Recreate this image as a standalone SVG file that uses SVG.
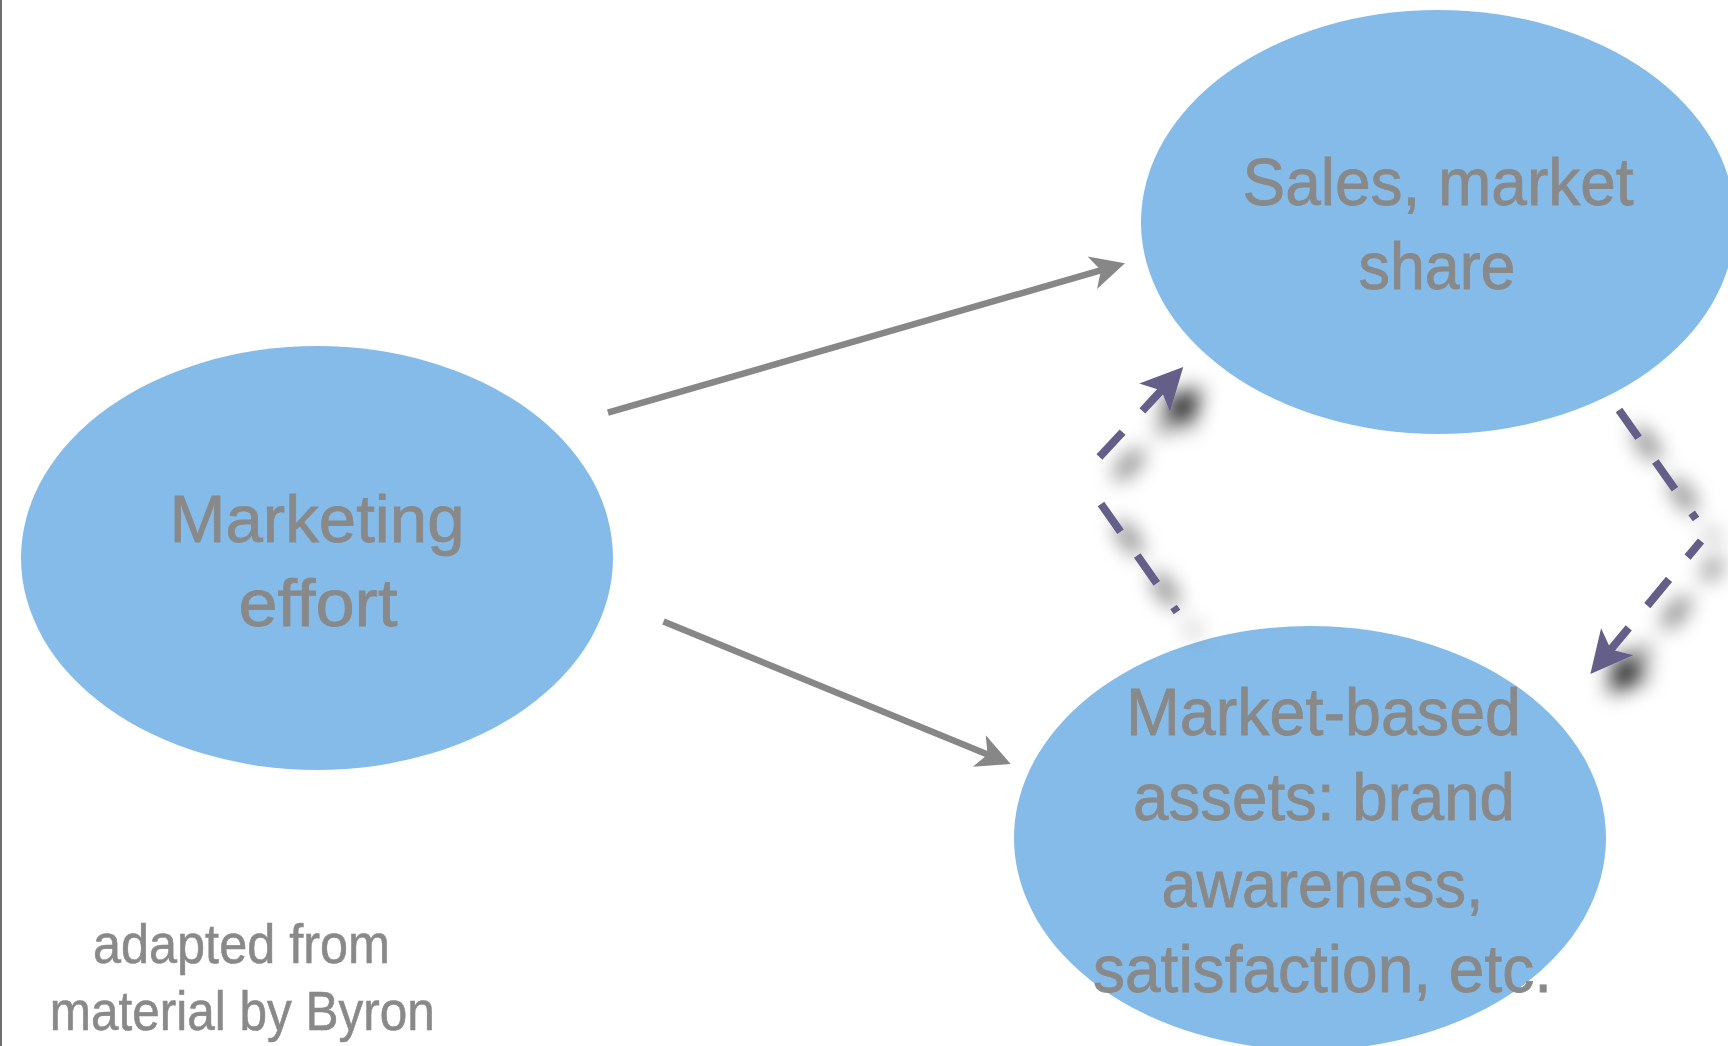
<svg xmlns="http://www.w3.org/2000/svg" width="1728" height="1046" viewBox="0 0 1728 1046">
  <style>
    .node { fill: #85bbe8; }
    .label { font-family: "Liberation Sans", Arial, sans-serif; font-size: 67px; fill: #898989; stroke: #898989; stroke-width: 0.8; text-anchor: middle; }
    .note { font-family: "Liberation Sans", Arial, sans-serif; font-size: 55px; fill: #898989; stroke: #898989; stroke-width: 0.6; text-anchor: middle; }
    .flow { fill: none; stroke: #878787; stroke-width: 6.5; }
    .feedback { fill: none; stroke: #645f89; stroke-width: 8; stroke-dasharray: 34 29; }
  </style>
  <defs>
    <!-- notched arrowheads; refX sits inside the head so the line end is hidden -->
    <marker id="head-grey" markerUnits="userSpaceOnUse" markerWidth="40" markerHeight="40" refX="13" refY="0" viewBox="0 -20 40 40" orient="auto" overflow="visible">
      <path d="M34,0 L0,-17 L9,0 L0,17 Z" fill="#878787"/>
    </marker>
    <marker id="head-purple" markerUnits="userSpaceOnUse" markerWidth="50" markerHeight="50" refX="16" refY="0" viewBox="0 -25 50 50" orient="auto-start-reverse" overflow="visible">
      <path d="M42,0 L0,-21 L10,0 L0,21 Z" fill="#645f89"/>
    </marker>
    <filter id="soft-shadow" filterUnits="userSpaceOnUse" x="1000" y="300" width="760" height="420">
      <feGaussianBlur in="SourceAlpha" stdDeviation="10.5"/>
      <feOffset dx="18" dy="20" result="blur"/>
      <feFlood flood-color="#000" flood-opacity="1"/>
      <feComposite in2="blur" operator="in" result="shadow"/>
      <feMerge>
        <feMergeNode in="shadow"/>
        <feMergeNode in="SourceGraphic"/>
      </feMerge>
    </filter>
  </defs>

  <rect x="0" y="0" width="1728" height="1046" fill="#ffffff"/>
  <!-- slide edge -->
  <rect x="0" y="0" width="2" height="1046" fill="#6e6e6e"/>

  <g id="marketing-effort">
    <ellipse class="node" cx="317" cy="558" rx="296" ry="212"/>
    <text class="label" x="317" y="541.7" textLength="295" lengthAdjust="spacingAndGlyphs">Marketing</text>
    <text class="label" x="318" y="626" textLength="159" lengthAdjust="spacingAndGlyphs">effort</text>
  </g>

  <g id="sales-market-share">
    <ellipse class="node" cx="1438" cy="222" rx="297" ry="212"/>
    <text class="label" x="1438" y="205" textLength="391" lengthAdjust="spacingAndGlyphs">Sales, market</text>
    <text class="label" x="1437" y="289.3" textLength="157" lengthAdjust="spacingAndGlyphs">share</text>
  </g>

  <g id="market-based-assets">
    <ellipse class="node" cx="1310" cy="838" rx="296" ry="212"/>
    <text class="label" x="1323.5" y="735.3" textLength="395" lengthAdjust="spacingAndGlyphs">Market-based</text>
    <text class="label" x="1324" y="820" textLength="382" lengthAdjust="spacingAndGlyphs">assets: brand</text>
    <text class="label" x="1322.5" y="906.7" textLength="322" lengthAdjust="spacingAndGlyphs">awareness,</text>
    <text class="label" x="1322.5" y="991.7" textLength="459" lengthAdjust="spacingAndGlyphs">satisfaction, etc.</text>
  </g>

  <g id="source-note">
    <text class="note" x="241.5" y="963.3" textLength="297" lengthAdjust="spacingAndGlyphs">adapted from</text>
    <text class="note" x="242.3" y="1030" textLength="385" lengthAdjust="spacingAndGlyphs">material by Byron</text>
  </g>

  <g id="connectors">
    <!-- direct effects -->
    <path class="flow" d="M607.9,412.7 L1104.8,269.1" marker-end="url(#head-grey)"/>
    <path class="flow" d="M663.5,621.6 L991.3,756" marker-end="url(#head-grey)"/>
    <!-- feedback loops (dashed, with drop shadow) -->
    <g filter="url(#soft-shadow)">
      <path class="feedback" d="M1165.5,386 L1092,465 M1101,504 L1177,612" marker-start="url(#head-purple)"/>
      <path class="feedback" d="M1607,654 L1701,541 M1619,410 L1696,519" marker-start="url(#head-purple)"/>
    </g>
  </g>
</svg>
